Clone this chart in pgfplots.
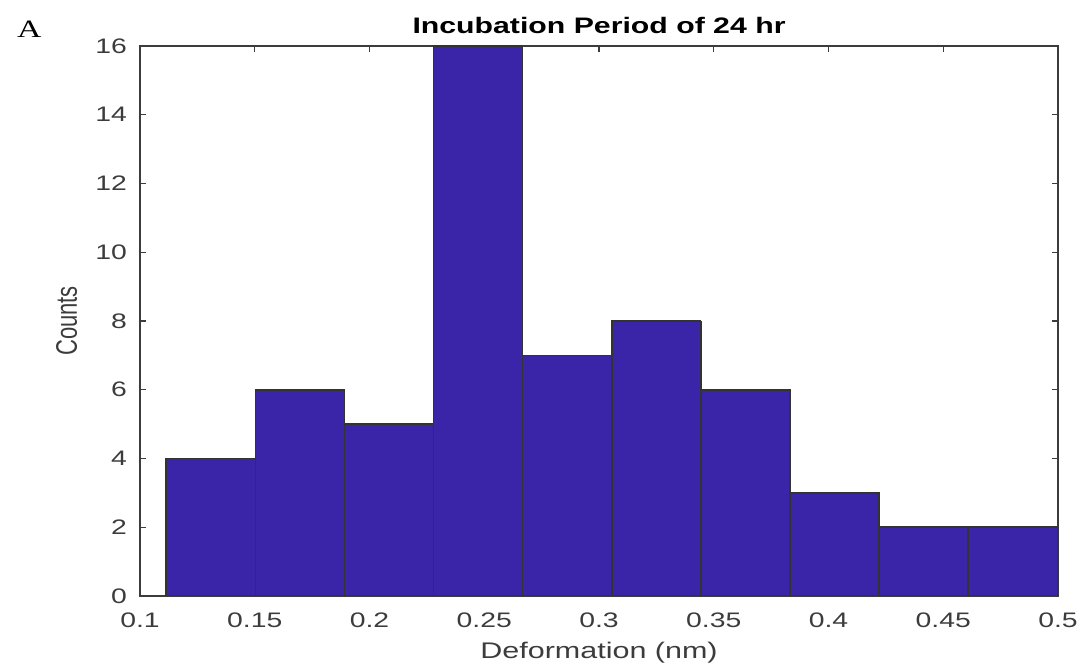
\documentclass[border=0pt]{standalone}
\usepackage{pgfplots}
\pgfplotsset{compat=1.18}
\usepackage{fontspec}
\setmainfont[FakeStretch=1.35]{Liberation Sans}
\newfontfamily\plainsans{Liberation Sans}
\newfontfamily\seriffont[FakeStretch=1.35]{Liberation Serif}
\definecolor{barfill}{RGB}{58,36,168}
\definecolor{axgray}{RGB}{60,60,60}
\pgfplotstableread{
x y
0.1115 4
0.1503 6
0.1891 5
0.2279 16
0.2667 7
0.3055 8
0.3443 6
0.3831 3
0.4219 2
0.4607 2
0.5000 2
}\histdata
% bin edges with the taller of the two neighbouring bars
\pgfplotstableread{
x y
0.1115 4
0.1503 6
0.1891 6
0.2279 16
0.2667 16
0.3055 8
0.3443 8
0.3831 6
0.4219 3
0.4607 2
0.5000 2
}\edgedata
\begin{document}
\begin{tikzpicture}
\begin{axis}[
  at={(0,0)}, anchor=south west,
  scale only axis,
  width=459pt, height=275pt,
  xmin=0.1, xmax=0.5, ymin=0, ymax=16,
  xtick={0.1,0.15,...,0.5},
  xticklabels={0.1,0.15,0.2,0.25,0.3,0.35,0.4,0.45,0.5},
  ytick={0,2,...,16},
  tick align=inside,
  major tick length=3pt,
  axis line style={axgray, line width=0.6pt},
  every tick/.style={axgray, line width=0.6pt},
  tick label style={font=\fontsize{10.5}{12}\selectfont, text=axgray},
  /pgf/number format/assume math mode=true,
  xlabel={Deformation (nm)},
  ylabel={\plainsans Counts},
  xlabel style={font=\fontsize{11.3}{13}\selectfont, text=axgray, yshift=0pt},
  ylabel style={font=\fontsize{11}{13}\selectfont, text=axgray, yshift=1pt, yscale=1.35},
  title={\textbf{Incubation Period of 24 hr}},
  title style={font=\fontsize{11.2}{13}\selectfont, yshift=-3.5pt},
  xticklabel style={yshift=-5pt},
  yticklabel style={xshift=-3pt},
]
\addplot[ybar interval, fill=barfill, draw=none] table[x=x,y=y] {\histdata};
\addplot[ybar interval, fill=none, draw=black!80, line width=0.8pt] table[x=x,y=y] {\histdata};
\addplot[ycomb, no marks, draw=black!80, line width=0.9pt] table[x=x,y=y] {\edgedata};
\end{axis}
\node[anchor=base west, font=\seriffont\fontsize{12.5}{14}\selectfont] at (-65pt,279pt) {A};
\path (-70pt,-35pt) rectangle (473pt,298pt);
\end{tikzpicture}
\end{document}
